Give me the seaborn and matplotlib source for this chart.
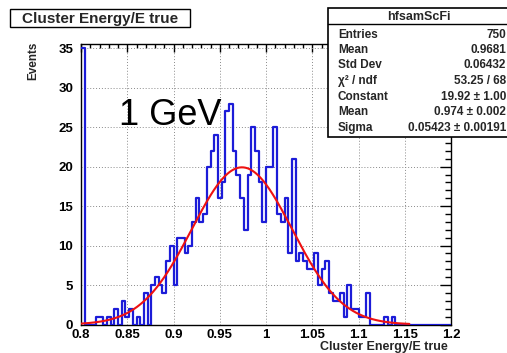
import numpy as np
import pandas as pd
import matplotlib
matplotlib.use("Agg")
import matplotlib.pyplot as plt
import seaborn as sns
from matplotlib.ticker import MultipleLocator
from matplotlib.patches import Rectangle
from matplotlib.lines import Line2D

# ---------------- data ----------------
bin_low = 0.8
bin_high = 1.2
n_bins = 100
counts = [35, 0, 0, 0, 1, 1, 0, 1, 0, 2,
          0, 3, 1, 2, 0, 1, 0, 4, 0, 5,
          6, 5, 4, 8, 10, 5, 11, 11, 9, 10,
          13, 16, 13, 14, 20, 22, 24, 16, 18, 27,
          28, 22, 19, 16, 12, 19, 25, 22, 18, 13,
          20, 20, 25, 14, 13, 16, 9, 21, 8, 9,
          8, 7, 7, 9, 5, 7, 8, 4, 3, 3,
          4, 1, 5, 2, 2, 1, 1, 4, 0, 0,
          0, 0, 1, 0, 1, 0, 0, 0, 0, 0,
          0, 0, 0, 0, 0, 0, 0, 0, 0, 0]
fit_constant = 19.92
fit_mean = 0.974
fit_sigma = 0.05423
fit_x_end = 1.155

x_ticks = [0.8, 0.85, 0.9, 0.95, 1.0, 1.05, 1.1, 1.15, 1.2]
x_tick_labels = ["0.8", "0.85", "0.9", "0.95", "1", "1.05", "1.1", "1.15", "1.2"]
y_ticks = [0, 5, 10, 15, 20, 25, 30, 35]
y_tick_labels = ["0", "5", "10", "15", "20", "25", "30", "35"]

title = "Cluster Energy/E true"
x_title = "Cluster Energy/E true"
y_title = "Events"
annotation = "1 GeV"
stats_name = "hfsamScFi"
stats_labels = ["Entries", "Mean", "Std Dev", "χ² / ndf", "Constant", "Mean", "Sigma"]
stats_values = ["750", "0.9681", "0.06432", "53.25 / 68", "19.92 ± 1.00",
                "0.974 ± 0.002", "0.05423 ± 0.00191"]

# ---------------- style ----------------
sns.set_theme(style="white")
plt.rcParams['font.family'] = ['Liberation Sans', 'DejaVu Sans']

W, H = 507, 353
fig = plt.figure(figsize=(W / 100, H / 100), dpi=100)
fig.patch.set_facecolor("white")


def fx(px):
    return px / W


def fy(py):
    return 1 - py / H


ax_left, ax_right, ax_top, ax_bottom = 81, 451, 44, 324.5
ax = fig.add_axes([fx(ax_left), fy(ax_bottom), (ax_right - ax_left) / W, (ax_bottom - ax_top) / H])
ax.set_facecolor("white")

edges = np.linspace(bin_low, bin_high, n_bins + 1)
centers = 0.5 * (edges[:-1] + edges[1:])
df = pd.DataFrame({"x": centers, "w": counts})

sns.histplot(data=df, x="x", weights="w", bins=n_bins, binrange=(bin_low, bin_high),
             element="step", fill=False, color="#1c1cd8", linewidth=1.6, ax=ax, zorder=3)

xs = np.linspace(bin_low, fit_x_end, 500)
ys = fit_constant * np.exp(-0.5 * ((xs - fit_mean) / fit_sigma) ** 2)
sns.lineplot(x=xs, y=ys, color="#ee1111", linewidth=1.5, ax=ax, zorder=4)

ax.set_xlim(bin_low, bin_high)
ax.set_ylim(0, 35.55)
ax.set_xlabel("")
ax.set_ylabel("")

ax.set_xticks(x_ticks)
ax.set_xticklabels(x_tick_labels, fontsize=9.5, fontweight="bold")
ax.set_yticks(y_ticks)
ax.set_yticklabels(y_tick_labels, fontsize=9.5, fontweight="bold")
ax.xaxis.set_minor_locator(MultipleLocator(0.01))
ax.yaxis.set_minor_locator(MultipleLocator(1))

ax.tick_params(which="both", direction="in", top=True, right=True, colors="black",
               labelcolor="black", width=1)
ax.tick_params(axis="x", which="major", length=6, pad=3.6)
ax.tick_params(axis="x", which="minor", length=3)
ax.tick_params(axis="y", which="major", length=8, pad=5.5)
ax.tick_params(axis="y", which="minor", length=4)

for s in ax.spines.values():
    s.set_color("black")
    s.set_linewidth(1.0)
    s.set_visible(True)

ax.grid(True, which="major", color="#8a8a8a", linestyle=(0, (1, 2)), linewidth=0.7)
ax.set_axisbelow(True)

ax.text(0.8415, 25.3, annotation, fontsize=26, color="black", ha="left", va="baseline", zorder=5)

# axis titles
fig.text(fx(448), fy(350), x_title, ha="right", va="baseline", fontsize=9, fontweight="bold")
fig.text(fx(33), fy(42), y_title, ha="center", va="top", rotation=90, fontsize=8.5, fontweight="bold")

# title box
fig.patches.append(Rectangle((fx(10), fy(27.3)), (190 - 10) / W, (27.3 - 9.3) / H,
                             transform=fig.transFigure, facecolor="white", edgecolor="black",
                             linewidth=1.0))
fig.text(fx(100), fy(22.8), title, ha="center", va="baseline", fontsize=11, fontweight="bold")

# stats box
box_l, box_r, box_t, box_b = 328, 512, 8.3, 137
fig.patches.append(Rectangle((fx(box_l), fy(box_b)), (box_r - box_l) / W, (box_b - box_t) / H,
                             transform=fig.transFigure, facecolor="white", edgecolor="black",
                             linewidth=1.2, zorder=5))
fig.lines.append(Line2D([fx(box_l), fx(box_r)], [fy(24), fy(24)], transform=fig.transFigure,
                        color="black", linewidth=1.0, zorder=6))
fig.text(fx(419), fy(20.2), stats_name, ha="center", va="baseline", fontsize=9, fontweight="bold", zorder=7)
row_base = [37.5, 53, 68.5, 84, 100, 115.5, 131.3]
for lab, val, yy in zip(stats_labels, stats_values, row_base):
    fig.text(fx(338), fy(yy), lab, ha="left", va="baseline", fontsize=8.5, fontweight="bold", zorder=7)
    fig.text(fx(506), fy(yy), val, ha="right", va="baseline", fontsize=8.5, fontweight="bold", zorder=7)

fig.savefig("out.png", dpi=100, facecolor="white")
